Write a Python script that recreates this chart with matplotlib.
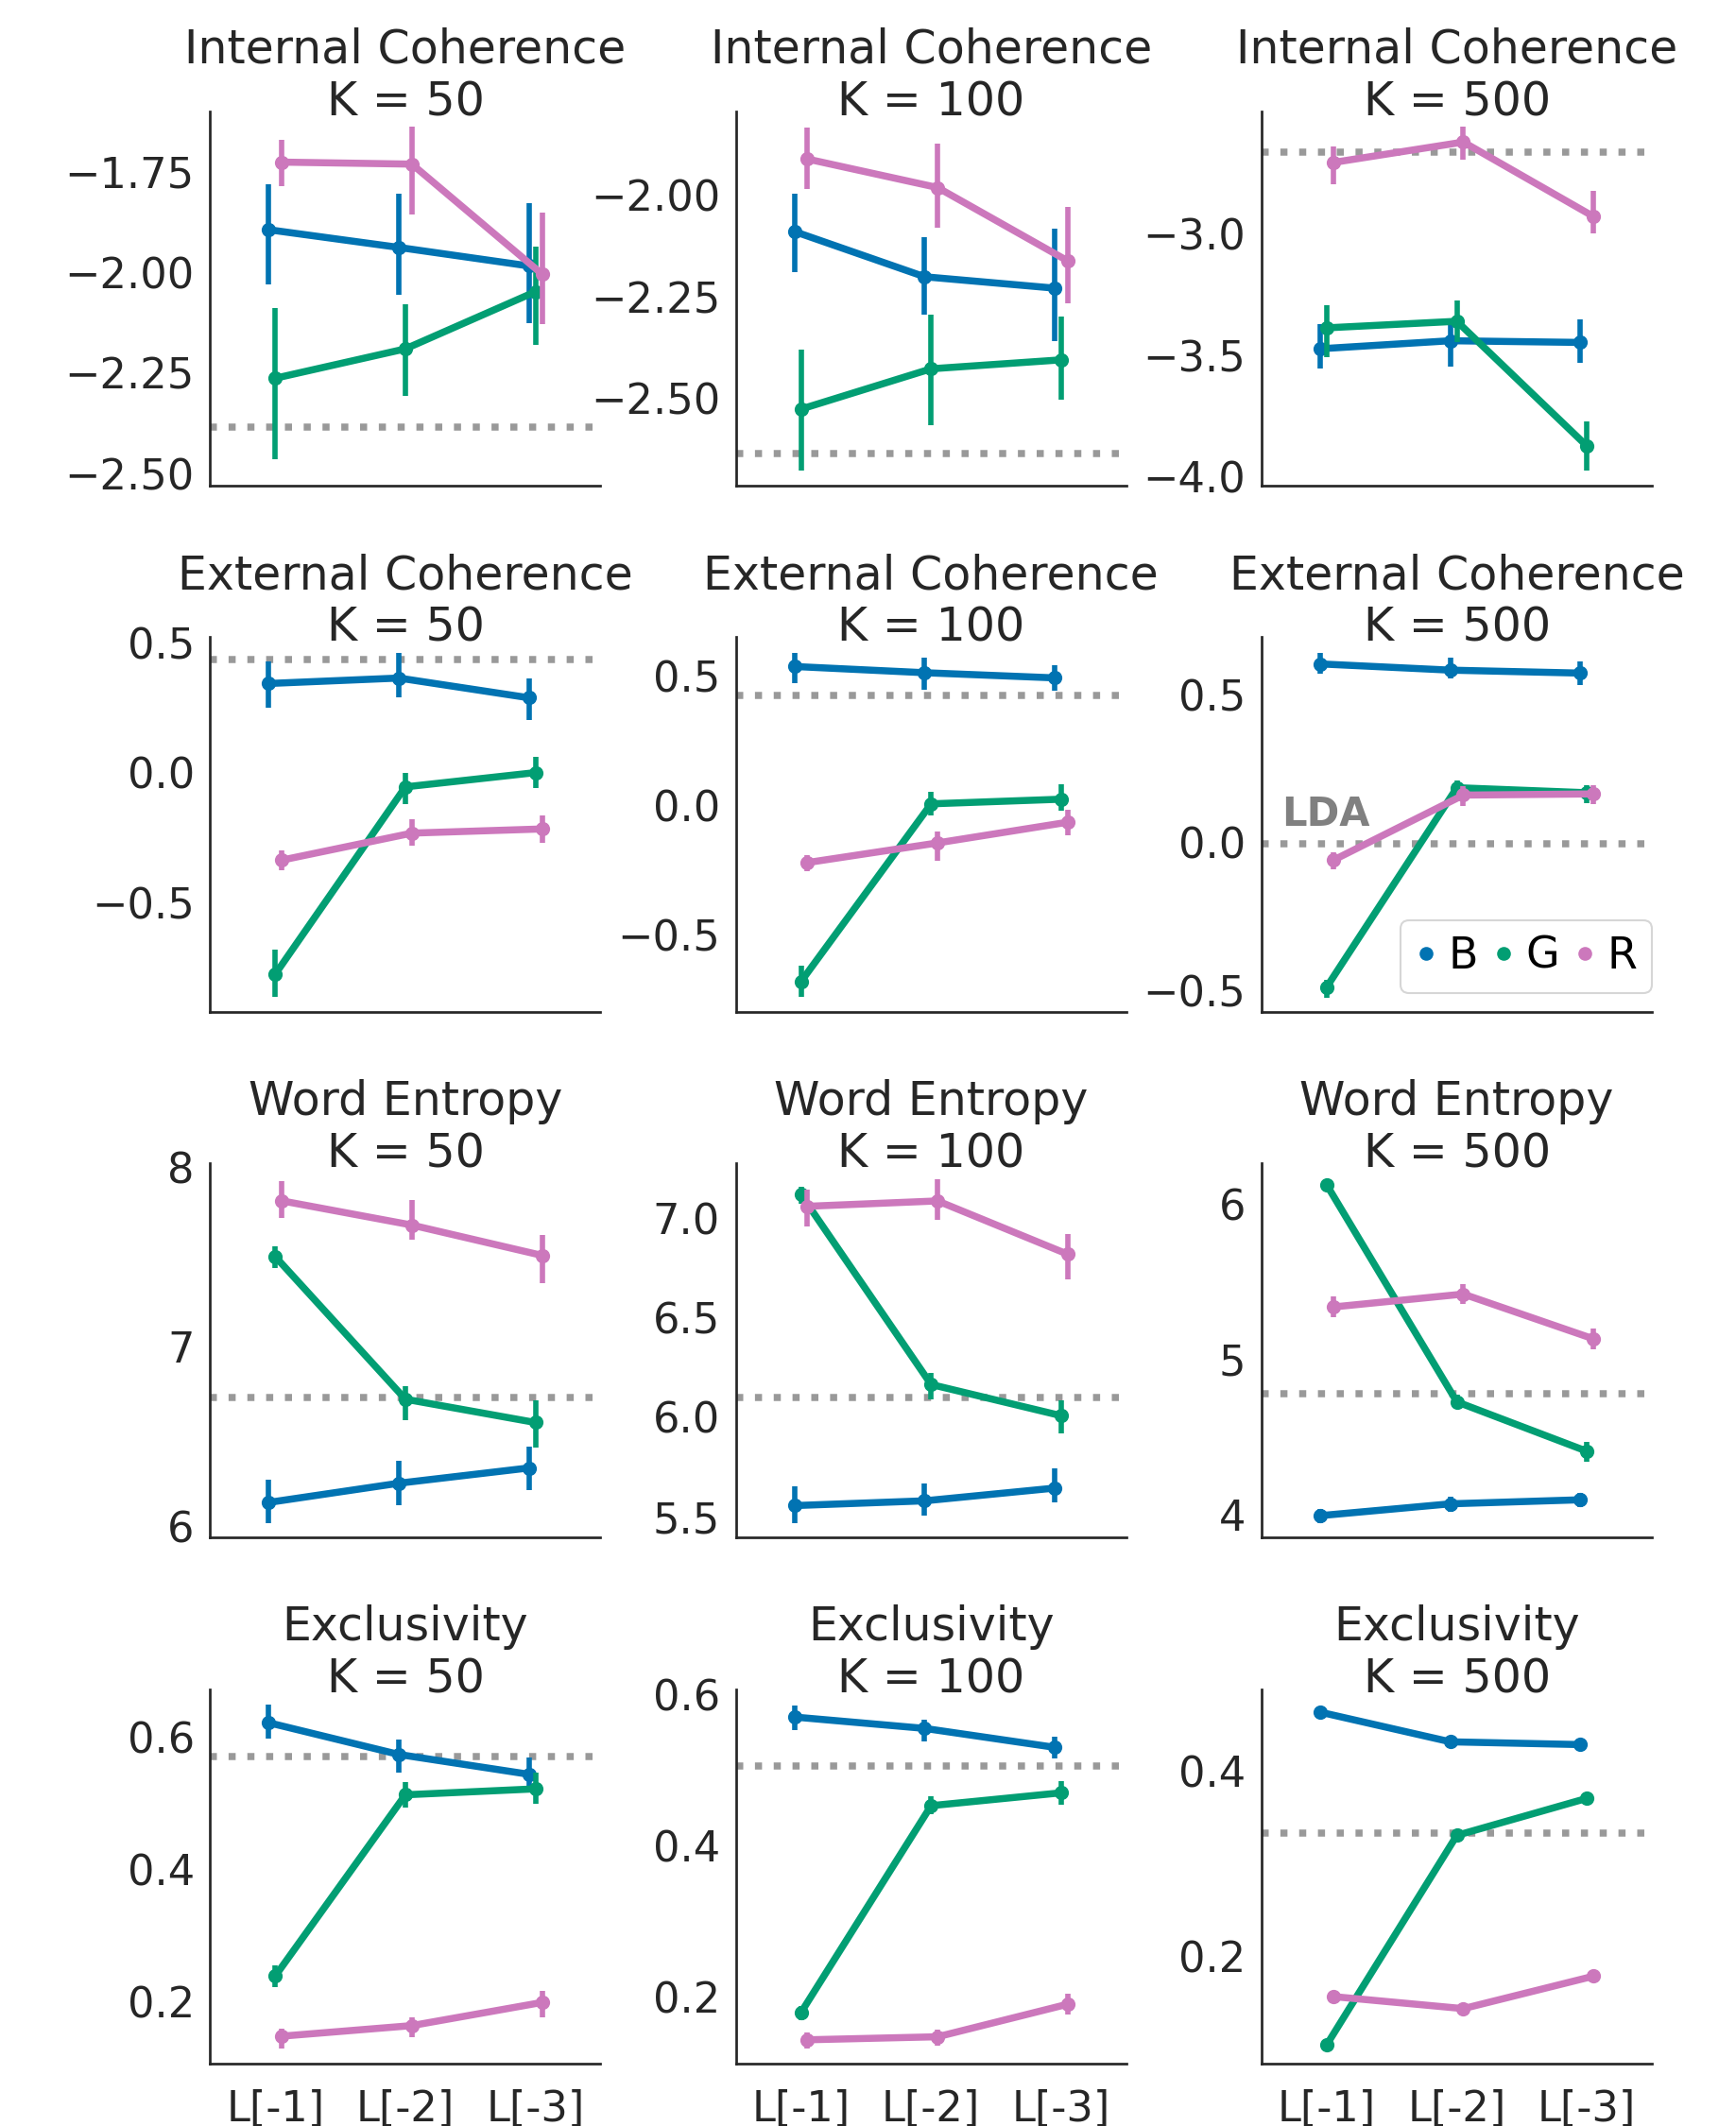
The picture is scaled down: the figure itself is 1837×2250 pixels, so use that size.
import matplotlib
matplotlib.use('Agg')
import matplotlib.pyplot as plt
from matplotlib.lines import Line2D
import numpy as np

plt.rcParams['font.family'] = ['DejaVu Sans']
plt.rcParams['axes.unicode_minus'] = True

# 数据：每个指标按 K 分组，每组依次为 B, G, R 三个模型在 L[-1], L[-2], L[-3] 上的取值
layers = ['L[-1]', 'L[-2]', 'L[-3]']
models = ['B', 'G', 'R']
k_values = [50, 100, 500]
metrics = ['Internal Coherence', 'External Coherence', 'Word Entropy', 'Exclusivity']

internal_mean = {
    50: [[-1.894, -1.938, -1.984], [-2.263, -2.190, -2.048], [-1.726, -1.731, -2.004]],
    100: [[-2.090, -2.201, -2.229], [-2.526, -2.427, -2.405], [-1.912, -1.982, -2.162]],
    500: [[-3.473, -3.440, -3.447], [-3.387, -3.360, -3.873], [-2.707, -2.623, -2.929]],
}
internal_lo = {
    50: [[-2.030, -2.056, -2.127], [-2.464, -2.306, -2.181], [-1.785, -1.856, -2.129]],
    100: [[-2.190, -2.295, -2.358], [-2.677, -2.565, -2.503], [-1.986, -2.080, -2.266]],
    500: [[-3.553, -3.547, -3.531], [-3.507, -3.447, -3.973], [-2.797, -2.696, -3.000]],
}
internal_hi = {
    50: [[-1.780, -1.804, -1.829], [-2.089, -2.079, -1.935], [-1.670, -1.638, -1.852]],
    100: [[-1.998, -2.104, -2.082], [-2.379, -2.295, -2.299], [-1.834, -1.873, -2.029]],
    500: [[-3.373, -3.347, -3.353], [-3.293, -3.273, -3.773], [-2.640, -2.560, -2.824]],
}

external_mean = {
    50: [[0.343, 0.364, 0.288], [-0.776, -0.055, 0.000], [-0.337, -0.233, -0.217]],
    100: [[0.538, 0.514, 0.494], [-0.680, 0.007, 0.025], [-0.220, -0.144, -0.064]],
    500: [[0.604, 0.583, 0.573], [-0.487, 0.186, 0.169], [-0.059, 0.161, 0.165]],
}
external_lo = {
    50: [[0.251, 0.291, 0.202], [-0.862, -0.123, -0.061], [-0.376, -0.282, -0.270]],
    100: [[0.473, 0.448, 0.443], [-0.741, -0.039, -0.021], [-0.255, -0.214, -0.113]],
    500: [[0.570, 0.554, 0.532], [-0.522, 0.161, 0.134], [-0.089, 0.124, 0.132]],
}
external_hi = {
    50: [[0.429, 0.460, 0.364], [-0.683, 0.000, 0.061], [-0.298, -0.180, -0.165]],
    100: [[0.590, 0.571, 0.543], [-0.618, 0.053, 0.084], [-0.193, -0.101, -0.017]],
    500: [[0.642, 0.624, 0.613], [-0.462, 0.210, 0.194], [-0.032, 0.190, 0.194]],
}

entropy_mean = {
    50: [[6.133, 6.240, 6.325], [7.502, 6.708, 6.578], [7.813, 7.678, 7.509]],
    100: [[5.556, 5.580, 5.644], [7.120, 6.165, 6.008], [7.061, 7.088, 6.820]],
    500: [[3.996, 4.072, 4.098], [6.123, 4.728, 4.410], [5.338, 5.421, 5.133]],
}
entropy_lo = {
    50: [[6.018, 6.116, 6.204], [7.436, 6.592, 6.440], [7.720, 7.598, 7.356]],
    100: [[5.468, 5.508, 5.572], [7.072, 6.091, 5.920], [6.960, 6.992, 6.695]],
    500: [[3.950, 4.020, 4.050], [6.088, 4.687, 4.345], [5.273, 5.355, 5.067]],
}
entropy_hi = {
    50: [[6.261, 6.364, 6.444], [7.560, 6.779, 6.702], [7.924, 7.817, 7.624]],
    100: [[5.652, 5.668, 5.741], [7.160, 6.225, 6.085], [7.144, 7.196, 6.923]],
    500: [[4.040, 4.120, 4.140], [6.158, 4.776, 4.472], [5.406, 5.488, 5.200]],
}

exclusivity_mean = {
    50: [[0.622, 0.574, 0.544], [0.239, 0.513, 0.522], [0.148, 0.164, 0.199]],
    100: [[0.570, 0.555, 0.530], [0.180, 0.453, 0.470], [0.144, 0.148, 0.191]],
    500: [[0.464, 0.432, 0.429], [0.105, 0.331, 0.371], [0.157, 0.144, 0.179]],
}
exclusivity_lo = {
    50: [[0.598, 0.547, 0.527], [0.222, 0.494, 0.500], [0.129, 0.146, 0.177]],
    100: [[0.553, 0.538, 0.515], [0.170, 0.442, 0.454], [0.132, 0.136, 0.177]],
    500: [[0.458, 0.427, 0.424], [0.099, 0.325, 0.365], [0.151, 0.138, 0.173]],
}
exclusivity_hi = {
    50: [[0.650, 0.597, 0.569], [0.255, 0.532, 0.547], [0.160, 0.177, 0.217]],
    100: [[0.585, 0.566, 0.544], [0.189, 0.465, 0.485], [0.154, 0.158, 0.205]],
    500: [[0.470, 0.437, 0.434], [0.111, 0.337, 0.377], [0.163, 0.150, 0.185]],
}

# LDA 基线
lda_internal = {50: -2.384, 100: -2.636, 500: -2.665}
lda_external = {50: 0.435, 100: 0.427, 500: -0.005}
lda_entropy = {50: 6.716, 100: 6.098, 500: 4.780}
lda_exclusivity = {50: 0.571, 100: 0.505, 500: 0.333}

# y 轴刻度
yticks_internal = {50: [-2.5, -2.25, -2.0, -1.75], 100: [-2.5, -2.25, -2.0], 500: [-4.0, -3.5, -3.0]}
yticks_external = {50: [-0.5, 0.0, 0.5], 100: [-0.5, 0.0, 0.5], 500: [-0.5, 0.0, 0.5]}
yticks_entropy = {50: [6, 7, 8], 100: [5.5, 6.0, 6.5, 7.0], 500: [4, 5, 6]}
yticks_exclusivity = {50: [0.2, 0.4, 0.6], 100: [0.2, 0.4, 0.6], 500: [0.2, 0.4]}

ylims = {
    'Internal Coherence': {50: (-2.53, -1.60), 100: (-2.714, -1.795), 500: (-4.036, -2.497)},
    'External Coherence': {50: (-0.920, 0.521), 100: (-0.796, 0.651), 500: (-0.570, 0.694)},
    'Word Entropy': {50: (5.938, 8.023), 100: (5.396, 7.278), 500: (3.856, 6.263)},
    'Exclusivity': {50: (0.107, 0.673), 100: (0.113, 0.607), 500: (0.085, 0.489)},
}

metric_data = {
    'Internal Coherence': (internal_mean, internal_lo, internal_hi, lda_internal, yticks_internal),
    'External Coherence': (external_mean, external_lo, external_hi, lda_external, yticks_external),
    'Word Entropy': (entropy_mean, entropy_lo, entropy_hi, lda_entropy, yticks_entropy),
    'Exclusivity': (exclusivity_mean, exclusivity_lo, exclusivity_hi, lda_exclusivity, yticks_exclusivity),
}

colors = ['#0173B2', '#029E73', '#CC78BC']
dodge = [-0.05, 0.0, 0.05]
dark = '#262626'

fig, axes = plt.subplots(4, 3, figsize=(1837 / 150, 2250 / 150), dpi=150)
fig.subplots_adjust(left=0.1211, right=0.9516, bottom=0.0295, top=0.9476,
                    wspace=0.347, hspace=0.405)

x = np.arange(len(layers))
for r, metric in enumerate(metrics):
    mean, lo, hi, lda, yticks = metric_data[metric]
    for c, k in enumerate(k_values):
        ax = axes[r, c]
        ax.axhline(lda[k], color='#999999', linestyle=':', linewidth=3.6, zorder=1)
        for m in range(len(models)):
            xs = x + dodge[m]
            ax.vlines(xs, lo[k][m], hi[k][m], color=colors[m], linewidth=2.7, zorder=2 + m)
            ax.plot(xs, mean[k][m], color=colors[m], linewidth=3.6, marker='o',
                    markersize=6.3, zorder=2 + m)

        ax.set_xlim(-0.5, 2.5)
        ax.set_ylim(*ylims[metric][k])
        ax.set_yticks(yticks[k])
        ax.set_xticks(x)
        if r == len(metrics) - 1:
            ax.set_xticklabels(layers)
        else:
            ax.set_xticklabels([])
        ax.tick_params(axis='both', length=0, labelsize=21.5, colors=dark)
        ax.tick_params(axis='y', pad=8)
        ax.tick_params(axis='x', pad=13)
        for side in ['top', 'right']:
            ax.spines[side].set_visible(False)
        for side in ['left', 'bottom']:
            ax.spines[side].set_color(dark)
            ax.spines[side].set_linewidth(1.3)
        # 标题略微压在坐标轴顶端之下
        ax.set_title(f'{metric}\nK = {k}', fontsize=23.5, color=dark, y=1.0, pad=-2)

        if metric == 'External Coherence' and k == 500:
            ax.text(0.05, lda[k] + 0.035, 'LDA', transform=ax.get_yaxis_transform(),
                    fontsize=20, fontweight='bold', color='#808080', ha='left', va='bottom')
            handles = [Line2D([], [], marker='o', linestyle='', color=col, markersize=6)
                       for col in colors]
            ax.legend(handles, models, loc='lower right', bbox_to_anchor=(1.0, 0.05),
                      borderaxespad=0, ncol=3, fontsize=22, handlelength=0.5,
                      handletextpad=0.25, columnspacing=0.35, frameon=True,
                      edgecolor='0.8', fancybox=True, borderpad=0.35)

fig.savefig('out.png', dpi=150)
